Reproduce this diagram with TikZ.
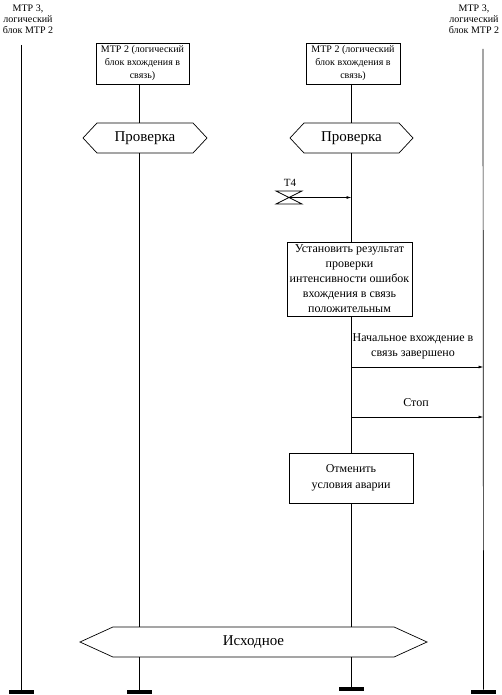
\documentclass[tikz,border=0pt]{standalone}
\usepackage{fontspec}
\setmainfont{Liberation Serif}
\usetikzlibrary{arrows.meta,shapes.symbols,positioning}

\begin{document}
\begin{tikzpicture}
[x=1pt,y=-1pt,line width=0.7pt,>={Latex[length=5pt,width=3pt]},
 font=\fontsize{12}{15}\selectfont]
\tikzstyle{procbox}
=[draw,rectangle,align=center,inner sep=0pt,outer sep=0pt,fill=white]
\tikzstyle{statehex}
=[draw,signal,signal to=east and west,inner sep=0pt,outer sep=0pt,
  minimum height=30pt,font=\fontsize{15}{17}\selectfont]
\tikzstyle{lifeend}
=[fill=black,rectangle,inner sep=0pt,minimum width=25pt,minimum height=4pt]
\tikzstyle{entity}
=[align=center,font=\fontsize{10}{11}\selectfont]
\useasboundingbox (0,0) rectangle (502,695);

% entities
\node[entity] (mtpL) at (28,19) {MTP 3,\\логический\\блок MTP 2};
\node[entity] (mtpR) at (474,19) {MTP 3,\\логический\\блок MTP 2};
\node[procbox,minimum width=93pt,minimum height=41pt,font=\fontsize{10}{13}\selectfont]
  (box1) at (142.5,63.5) {MTP 2 (логический\\блок вхождения в\\связь)};
\node[procbox,minimum width=94pt,minimum height=41pt,font=\fontsize{10}{13}\selectfont]
  (box2) at (353,63.5) {MTP 2 (логический\\блок вхождения в\\связь)};

% states
\node[statehex,minimum width=124pt,signal pointer angle=94] (hex1) at (145,138) {Проверка};
\node[statehex,minimum width=123pt,signal pointer angle=94] (hex2) at (351.5,138) {Проверка};
\node[statehex,minimum width=347pt,signal pointer angle=49] (init) at (253.5,642) {Исходное};

% actions
\node[procbox,minimum width=125pt,minimum height=74pt]
  (setbox) at (349.5,279) {Установить результат\\проверки\\интенсивности ошибок\\вхождения в связь\\положительным};
\node[procbox,minimum width=124pt,minimum height=50pt,font=\fontsize{12}{16}\selectfont]
  (cancel) at (351,478) {Отменить\\условия аварии};

% lifeline ends
\node[lifeend] (end1) at (21,692) {};
\node[lifeend] (end2) at (139.5,692) {};
\node[lifeend] (end3) at (351.5,689) {};
\node[lifeend] (end4) at (483.5,692) {};
\coordinate (top1) at (21,45);
\coordinate (top4) at (483,49);

% lifelines
\draw (top1) -- (end1.north);
\draw (top4) -- (end4.north);
\draw (box1.south -| end2) -- (hex1.north -| end2)
      (hex1.south -| end2) -- (init.north -| end2)
      (init.south -| end2) -- (end2.north);
\draw (box2.south -| end3) -- (hex2.north -| end3)
      (hex2.south -| end3) -- (setbox.north -| end3)
      (setbox.south -| end3) -- (cancel.north -| end3)
      (cancel.south -| end3) -- (init.north -| end3)
      (init.south -| end3) -- (end3.north);

% timer T4
\coordinate (t4) at (289,197.5);
\draw (t4) ++(-13,-6.5) -- ++(26,0) -- ++(-26,13) -- ++(26,0) -- cycle;
\node[font=\fontsize{11}{13}\selectfont] (t4lbl) at (290,183) {T4};
\draw[->] (t4) -- (t4 -| end3);

% messages
\coordinate (msg1) at (351,367);
\coordinate (msg2) at (351,417);
\draw[->] (msg1) -- (msg1 -| end4);
\draw[->] (msg2) -- (msg2 -| end4);
\node[align=center] (msg1lbl) at (413,346)
  {Начальное вхождение в\\связь завершено};
\node (msg2lbl) at (416,403) {Стоп};
\end{tikzpicture}
\end{document}
